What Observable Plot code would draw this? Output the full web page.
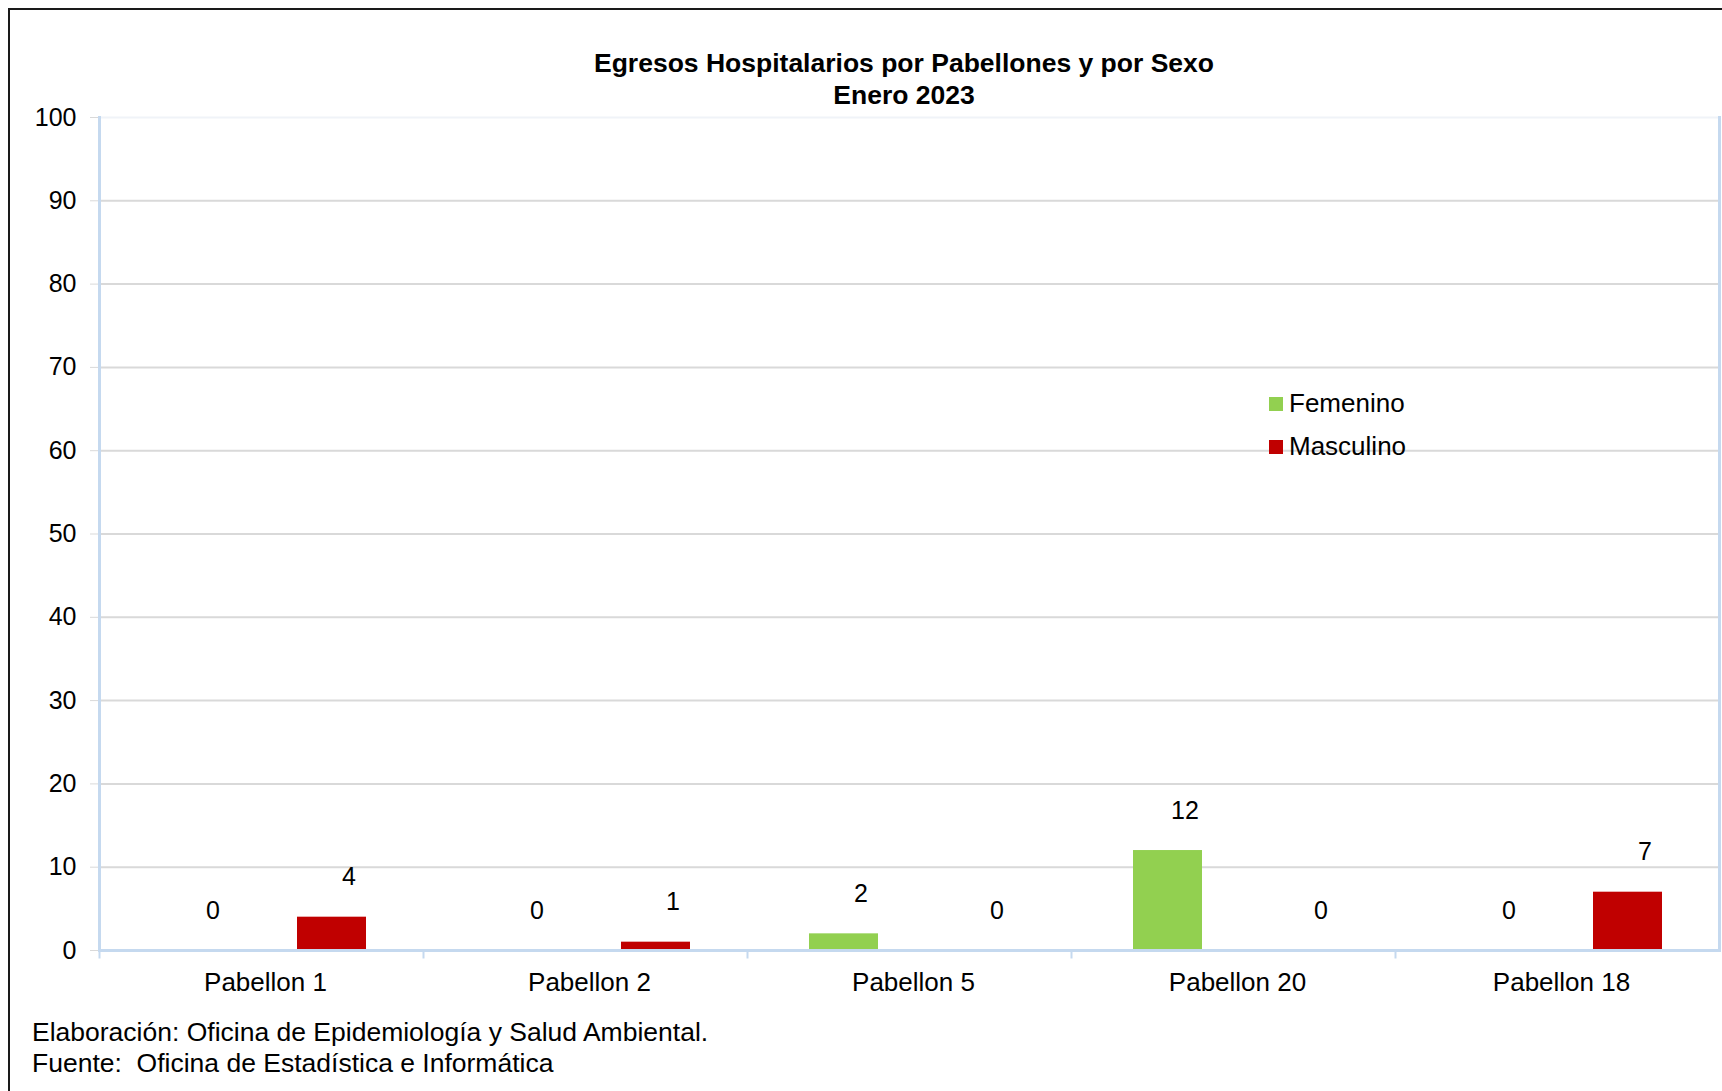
<!DOCTYPE html>
<html>
<head>
<meta charset="utf-8">
<script src="https://cdn.jsdelivr.net/npm/d3@7"></script>
<script src="https://cdn.jsdelivr.net/npm/@observablehq/plot@0.6"></script>
<style>
  html, body { margin: 0; padding: 0; background: #fff; width: 1722px; height: 1091px; overflow: hidden; }
  body { position: relative; font-family: "Liberation Sans", Arial, sans-serif; color: #000; }
  #chart { position: absolute; left: 0; top: 0; }
  #chart svg { background: transparent !important; }
  .frame { position: absolute; left: 8px; top: 8px; width: 1800px; height: 1200px; border: 2px solid #1a1a1a; pointer-events: none; }
  .title { position: absolute; left: 554px; width: 700px; top: 48px; text-align: center; font-weight: bold; font-size: 26.5px; line-height: 31.5px; }
  .legend { position: absolute; left: 1269px; top: 382px; font-size: 26px; line-height: 43px; }
  .legend .sw { display: inline-block; width: 14px; height: 14px; margin-right: 6px; vertical-align: 1px; }
  .caption { position: absolute; left: 32px; top: 1017px; font-size: 26.5px; line-height: 31px; white-space: pre; }
</style>
</head>
<body>
<div id="chart"></div>
<div class="title">Egresos Hospitalarios por Pabellones y por Sexo<br>Enero 2023</div>
<div class="legend" id="legend"></div>
<div class="caption">Elaboración: Oficina de Epidemiología y Salud Ambiental.
Fuente:  Oficina de Estadística e Informática</div>
<div class="frame"></div>
<script>
const pabellones = ["Pabellon 1", "Pabellon 2", "Pabellon 5", "Pabellon 20", "Pabellon 18"];
const sexos = ["Femenino", "Masculino"];
const femenino = [0, 0, 2, 12, 0];
const masculino = [4, 1, 0, 0, 7];
const yTicks = [0, 10, 20, 30, 40, 50, 60, 70, 80, 90, 100];
const colores = ["#92d050", "#c00000"];

const data = [];
pabellones.forEach((p, i) => {
  data.push({pab: p, sexo: "Femenino", value: femenino[i]});
  data.push({pab: p, sexo: "Masculino", value: masculino[i]});
});

const plotH = 1000, mTop = 117, mBottom = 50;
const chart = Plot.plot({
  width: 1722,
  height: plotH,
  marginLeft: 99,
  marginRight: 3,
  marginTop: mTop,
  marginBottom: mBottom,
  style: {fontFamily: "'Liberation Sans', Arial, sans-serif", fontSize: "26px", color: "#000", background: "transparent"},
  fx: {domain: pabellones, padding: 0},
  x: {domain: sexos, paddingInner: 0.49, paddingOuter: 0.436, align: 0.52, axis: null},
  y: {domain: [0, 100]},
  color: {domain: sexos, range: colores},
  marks: [
    Plot.ruleY(yTicks.slice(1, -1), {stroke: "#d9d9d9", strokeWidth: 2}),
    Plot.ruleY([100], {stroke: "#f0f3f8", strokeWidth: 2}),
    Plot.axisY({ticks: yTicks, label: null, tickSize: 9, tickPadding: 14, stroke: "#d9d9d9", strokeOpacity: 1, fill: "#000", fontSize: 25, tickFormat: d => String(d)}),
    Plot.barY(data, {fx: "pab", x: "sexo", y: "value", fill: "sexo"}),
    Plot.text(data, {fx: "pab", x: "sexo", y: "value", text: d => String(d.value), dx: 17, dy: -40, fontSize: 25, fill: "#000"}),
    Plot.ruleY([0], {stroke: "#c5d9ef", strokeWidth: 3}),
    Plot.frame({anchor: "left", facetAnchor: "left", stroke: "#c5d9ef", strokeWidth: 3}),
    Plot.frame({anchor: "right", facetAnchor: "right", stroke: "#c5d9ef", strokeWidth: 3}),
    Plot.frame({anchor: "left", stroke: "#c5d9ef", strokeWidth: 2, insetTop: plotH - mTop - mBottom, insetBottom: -7}),
    Plot.axisFx({anchor: "bottom", label: null, tickSize: 0, tickPadding: 22, dx: 4, fontSize: 26, fill: "#000"})
  ]
});
document.getElementById("chart").appendChild(chart);

const legend = document.getElementById("legend");
sexos.forEach((s, i) => {
  const row = document.createElement("div");
  const sw = document.createElement("span");
  sw.className = "sw";
  sw.style.background = colores[i];
  row.appendChild(sw);
  row.appendChild(document.createTextNode(s));
  legend.appendChild(row);
});
</script>
</body>
</html>
